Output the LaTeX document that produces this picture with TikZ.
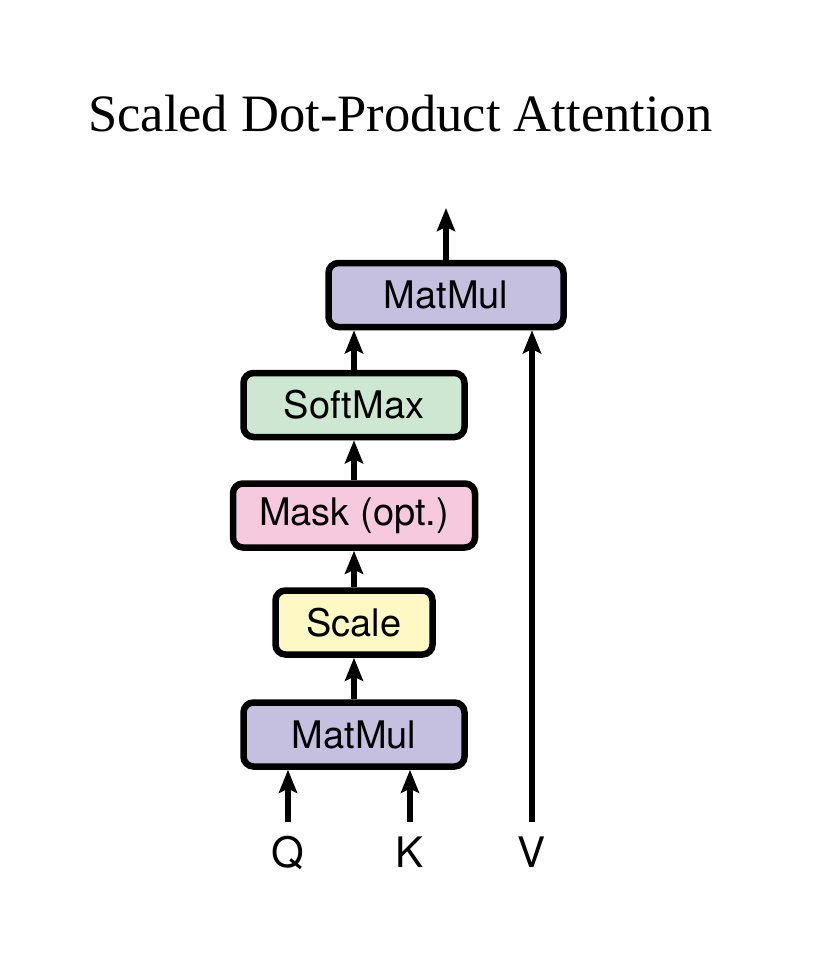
\documentclass[tikz,border=0pt]{standalone}
\usepackage{fontspec}
\setmainfont{Liberation Serif}
\setsansfont{TeX Gyre Heros}
\usetikzlibrary{arrows.meta,positioning}
\definecolor{mmpurple}{RGB}{197,192,224}
\definecolor{smgreen}{RGB}{205,231,211}
\definecolor{mkpink}{RGB}{247,201,223}
\definecolor{scyellow}{RGB}{254,248,196}

\begin{document}
\begin{tikzpicture}[x=1pt,y=-1pt]
\tikzstyle{every node}=[font=\sffamily\fontsize{38}{44}\selectfont]
\tikzstyle{block}=[draw,line width=6.5pt,rounded corners=10pt,minimum height=64pt,inner sep=0pt]
\tikzstyle{arr}=[line width=6pt,-{Stealth[length=23pt,width=18pt,inset=4pt]}]
\tikzstyle{lbl}=[font=\sffamily\fontsize{42}{48}\selectfont,inner sep=0pt,outer sep=14pt,anchor=base]
\useasboundingbox (0,0) rectangle (828,958);
\node[anchor=base west,inner sep=0pt,font=\rmfamily\fontsize{52.5}{60}\selectfont] (title) at (88,131) {Scaled Dot-Product Attention};
% blocks
\node[block,fill=mmpurple,minimum width=235pt] (matmul2) at (446,295) {MatMul};
\node[block,fill=smgreen,minimum width=221pt] (softmax) at (354,405) {SoftMax};
\node[block,fill=mkpink,minimum width=242pt] (mask) at (354,515.5) {Mask (opt.)};
\node[block,fill=scyellow,minimum width=157pt] (scale) at (354,622.5) {Scale};
\node[block,fill=mmpurple,minimum width=221pt] (matmul1) at (354,734.5) {MatMul};
% inputs
\node[lbl] (q) at (288,867) {Q};
\node[lbl] (k) at (410,867) {K};
\node[lbl] (v) at (532,867) {V};
\coordinate (out) at (446,208);
% arrows
\draw[arr] (q) -- (q |- matmul1.south);
\draw[arr] (k) -- (k |- matmul1.south);
\draw[arr] (v) -- (v |- matmul2.south);
\draw[arr] (matmul1) -- (scale);
\draw[arr] (scale) -- (mask);
\draw[arr] (mask) -- (softmax);
\draw[arr] (softmax) -- (softmax |- matmul2.south);
\draw[arr] (matmul2) -- (out);
\end{tikzpicture}
\end{document}
